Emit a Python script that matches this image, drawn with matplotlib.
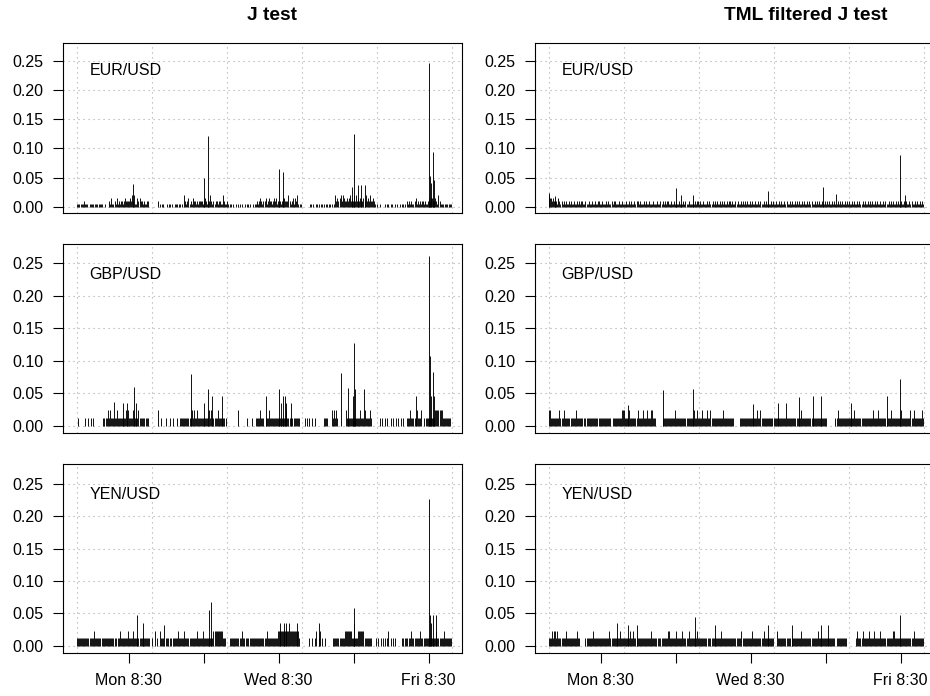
import numpy as np
import matplotlib.pyplot as plt

plt.rcParams['font.family'] = ['Liberation Sans', 'DejaVu Sans']

# time axis in hours from the start of the trading week
tick_hours = [16.5, 40.5, 64.5, 88.5, 112.5]
tick_labels = ['Mon 8:30', '', 'Wed 8:30', '', 'Fri 8:30']
grid_hours = [0, 24, 48, 72, 96, 120]
y_ticks = [0.00, 0.05, 0.10, 0.15, 0.20, 0.25]
pairs = ['EUR/USD', 'GBP/USD', 'YEN/USD']
titles = ['J test', 'TML filtered J test']

# background level, one base-36 code per 20 minutes (code * unit)
eur_j_unit = 0.005
eur_j_base = (
    "1110111211101111011101111" "001000"
    "21311213121221232222324241132322121122" "00000000"
    "02010110010110100111011010"
    "421231213221212222123212242121221221142112"
    "1011010010110100101101001011"
    "212321223123221232312221233222421231324"
    "101100000000110101101011010110110101"
    "42323424322323423242423232232423242232"
    "1010010000101101100101001011010"
    "21212112312121221211232332232142"
    "11101110111"
)
eur_j_peak_h = [18.0, 40.5, 42.0, 64.6, 66.0, 87.9, 88.5, 89.8, 90.9, 92.1,
                112.5, 112.8, 113.3, 113.9, 114.1]
eur_j_peak_v = [0.039, 0.049, 0.122, 0.065, 0.059, 0.033, 0.125, 0.037, 0.037, 0.037,
                0.246, 0.053, 0.040, 0.093, 0.045]

eur_tml_unit = 0.005
eur_tml_base = (
    "4332322213212121211212112112121221121121"
    "1211211221121112121121221112112111211212"
    "1121221211121211211121112112121212211211"
    "2121121112121121112121221211211121211212"
    "1211212121121221211212112121212112121121"
    "1212112121211212112112121121211212112121"
    "2112121121212112121211211212121121211212"
    "1211212121121211212112121121212112121121"
    "1212112121211212112112121121211212112121"
)
eur_tml_peak_h = [0.0, 1.9, 40.5, 42.1, 46.2, 70.2, 87.6, 91.8, 112.4, 113.9]
eur_tml_peak_v = [0.024, 0.018, 0.032, 0.020, 0.020, 0.027, 0.033, 0.022, 0.088, 0.020]

gbp_j_unit = 0.0118
gbp_j_base = (
    "0100000010010101" "000000000"
    "1101121211" "1112111111" "1121211112" "1111211111" "01110"
    "00000000"
    "200100010001001000100111"
    "1111111121" "2112111111" "1111121211" "1112111111" "01"
    "00000000000"
    "20000000100001000"
    "1111211101" "1121111111" "1111111112" "1111101111" "11"
    "00000"
    "101010010100000000"
    "1111" "0000" "212121" "0000000"
    "2111111111" "1111211121" "11121"
    "00000000"
    "10100101001010010100101000"
    "11121111121112"
    "0010111111111"
    "2222222"
    "111111110"
)
gbp_j_peak_h = [11.9, 14.8, 15.9, 18.2, 18.9, 36.5, 40.5, 42.0, 43.2, 46.4,
                60.6, 64.6, 65.2, 66.0, 66.4, 66.9, 68.4, 84.4, 86.8, 88.2,
                88.5, 89.0, 91.9, 108.5, 112.5, 112.8, 113.3, 113.9, 114.1]
gbp_j_peak_v = [0.036, 0.035, 0.035, 0.060, 0.035, 0.079, 0.035, 0.057, 0.045, 0.045,
                0.045, 0.057, 0.035, 0.045, 0.045, 0.035, 0.035, 0.081, 0.058, 0.045,
                0.128, 0.057, 0.057, 0.045, 0.262, 0.107, 0.045, 0.083, 0.045]

gbp_tml_unit = 0.0118
gbp_tml_base = (
    "2211111111" "2111211111" "0111112111" "1110111111"
    "111111101111111111110111111111" "2221111211"
    "11111211112111211122111" "000000" "11111111111"
    "1211111111" "1111111112" "1121111211" "1121121111"
    "1111111211" "1111111100" "0001111111" "1111111111"
    "2112111111" "1111101111" "1111111111" "1111111011"
    "1121111111" "1111111111" "1111111000" "0000011211"
    "1111111111" "1112111111" "1111111111" "1211112111"
    "1111111121" "1111111121" "1111111211" "2111111121"
)
gbp_tml_peak_h = [25.2, 36.6, 46.2, 65.4, 73.4, 75.7, 80.1, 84.4, 86.9, 96.6, 108.3, 112.4]
gbp_tml_peak_v = [0.032, 0.055, 0.056, 0.033, 0.035, 0.035, 0.044, 0.045, 0.045, 0.035,
                  0.045, 0.071]

yen_j_unit = 0.0118
yen_j_base = (
    "1111111111" "1111112111" "1110111111" "1111111101"
    "1211111112" "1111211111" "1111111111" "0010020100"
    "2111011101" "1011111211" "1112111111" "1111121111"
    "1211111111" "1222222222" "1110000111" "1111111121"
    "1011101111" "1111111111" "1121111111" "1112222222"
    "2222222222" "2221000000" "0001001012" "0012010010"
    "0000001111" "1111111222" "2222111111" "2222221111"
    "1110000101" "0010101012" "0101010000" "0011011101"
    "1211111112" "1101111111" "1111121111" "1121111111"
)
yen_j_peak_h = [19.1, 21.2, 27.8, 42.1, 43.0, 65.1, 66.2, 67.0, 67.7, 70.3,
                77.4, 88.5, 88.7, 112.5, 112.8, 113.3, 114.0, 114.9]
yen_j_peak_v = [0.048, 0.036, 0.033, 0.056, 0.067, 0.035, 0.035, 0.035, 0.035, 0.035,
                0.035, 0.058, 0.035, 0.226, 0.048, 0.035, 0.048, 0.048]

yen_tml_unit = 0.0118
yen_tml_base = (
    "1112122121" "1111112111" "1111111211" "0000011111"
    "1121111111" "1111111121" "1111111121" "1111111121"
    "1211111111" "1111111121" "1111011111" "1111221111"
    "1121111121" "1111211111" "1121111111" "1101111111"
    "1111121111" "1111111111" "1111201111" "1111121111"
    "1111112111" "1111110002" "1111111111" "1101111111"
    "1121111111" "1111111121" "1111111111" "1111101111"
    "1111110000" "0000012111" "1211111211" "1121111121"
    "1111111111" "2211111111" "1111111111" "2111111111"
)
yen_tml_peak_h = [21.6, 25.2, 28.0, 46.7, 53.1, 70.2, 77.6, 87.0, 89.2, 112.4]
yen_tml_peak_v = [0.035, 0.032, 0.032, 0.045, 0.033, 0.033, 0.033, 0.033, 0.033, 0.047]

panels = [
    [(eur_j_base, eur_j_unit, eur_j_peak_h, eur_j_peak_v),
     (eur_tml_base, eur_tml_unit, eur_tml_peak_h, eur_tml_peak_v)],
    [(gbp_j_base, gbp_j_unit, gbp_j_peak_h, gbp_j_peak_v),
     (gbp_tml_base, gbp_tml_unit, gbp_tml_peak_h, gbp_tml_peak_v)],
    [(yen_j_base, yen_j_unit, yen_j_peak_h, yen_j_peak_v),
     (yen_tml_base, yen_tml_unit, yen_tml_peak_h, yen_tml_peak_v)],
]

W, H = 930, 696
fig = plt.figure(figsize=(W / 100, H / 100), dpi=100)

col_left = [63, 535]
col_width = 399
rows = [(43, 213), (243.5, 432.5), (463.5, 653)]


def draw_panel(ax, base, unit, peak_h, peak_v, pair, bottom):
    vals = np.array([int(c, 36) for c in base]) * unit
    x = np.arange(len(vals)) * 120.0 / len(vals)
    keep = vals > 0
    for g in grid_hours:
        ax.axvline(g, color='#a8a8a8', lw=0.8, ls=(0, (1, 3.5)), zorder=1)
    for t in y_ticks:
        ax.axhline(t, color='#a8a8a8', lw=0.8, ls=(0, (1, 3.5)), zorder=1)
    ax.vlines(x[keep], 0, vals[keep], color='black', lw=0.65, zorder=2)
    ax.vlines(peak_h, 0, peak_v, color='black', lw=0.65, zorder=2)
    ax.text(4.0, 0.2335, pair, ha='left', va='center', fontsize=11.5)
    ax.set_xlim(-4.48, 123.2)
    ax.set_ylim(-0.0108, 0.2808)
    ax.set_yticks(y_ticks)
    ax.set_yticklabels([f'{t:.2f}' for t in y_ticks])
    ax.tick_params(axis='y', direction='out', length=7, width=0.8, pad=7,
                   labelsize=11.5)
    if bottom:
        ax.set_xticks(tick_hours)
        ax.set_xticklabels(tick_labels)
        ax.tick_params(axis='x', direction='out', length=7, width=0.8, pad=7.5,
                       labelsize=11.5)
    else:
        ax.set_xticks([])
    for s in ax.spines.values():
        s.set_linewidth(0.8)
        s.set_color('black')


for r, (top, bot) in enumerate(rows):
    for c in range(2):
        ax = fig.add_axes([col_left[c] / W, 1 - bot / H, col_width / W, (bot - top) / H])
        base, unit, ph, pv = panels[r][c]
        draw_panel(ax, base, unit, ph, pv, pairs[r], r == 2)

fig.text(272 / W, 1 - 15 / H, titles[0], ha='center', va='center',
         fontsize=13.8, fontweight='bold')
fig.text(806 / W, 1 - 15 / H, titles[1], ha='center', va='center',
         fontsize=13.8, fontweight='bold')

fig.savefig('out.png', dpi=100)
